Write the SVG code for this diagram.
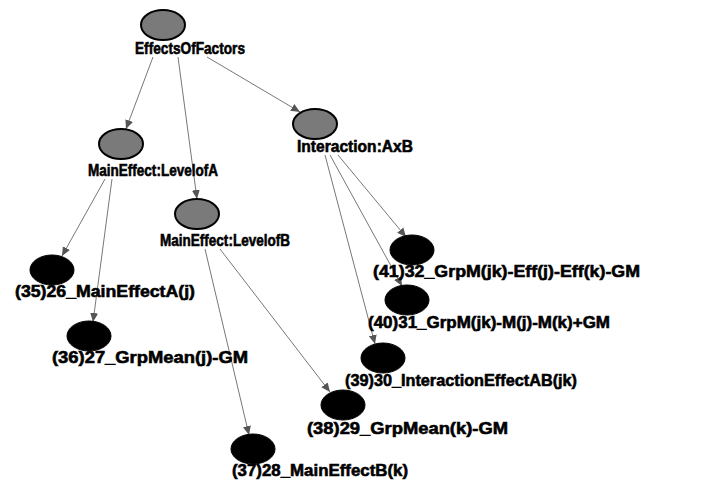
<svg xmlns="http://www.w3.org/2000/svg" width="726" height="482" viewBox="0 0 726 482">
  <defs>
    <marker id="arrow" markerWidth="10" markerHeight="10" refX="9" refY="5" orient="auto" markerUnits="userSpaceOnUse">
      <path d="M0,1 L9,5 L0,9 Z" fill="#555"/>
    </marker>
  </defs>
  <style>
    .edge { stroke: #777; stroke-width: 1; fill: none; marker-end: url(#arrow); }
    .factor { fill: #7a7a7a; stroke: #000; stroke-width: 2; }
    .term { fill: #000; stroke: #000; stroke-width: 1; }
    .label { font-family: "Liberation Sans", Arial, sans-serif; font-weight: bold; font-size: 17px; fill: #000; stroke: #000; stroke-width: 0.6; }
  </style>
  <rect width="726" height="482" fill="#fff"/>

  <g id="connectors">
    <line class="edge" x1="153" y1="57" x2="126" y2="129"/>
    <line class="edge" x1="178" y1="57" x2="197" y2="199"/>
    <line class="edge" x1="207" y1="57" x2="300" y2="112"/>
    <line class="edge" x1="105" y1="179" x2="62" y2="256"/>
    <line class="edge" x1="112" y1="179" x2="93" y2="322"/>
    <line class="edge" x1="205" y1="249" x2="249" y2="435"/>
    <line class="edge" x1="220" y1="249" x2="330" y2="392"/>
    <line class="edge" x1="325" y1="155" x2="375" y2="344"/>
    <line class="edge" x1="330" y1="155" x2="402" y2="286"/>
    <line class="edge" x1="338" y1="155" x2="406" y2="237"/>
  </g>

  <g id="EffectsOfFactors">
    <ellipse class="factor" cx="163" cy="25" rx="22" ry="15"/>
    <text class="label" x="135" y="54" textLength="110" lengthAdjust="spacingAndGlyphs">EffectsOfFactors</text>
  </g>
  <g id="MainEffect_LevelofA">
    <ellipse class="factor" cx="121" cy="144" rx="22" ry="15"/>
    <text class="label" x="88" y="176" textLength="130" lengthAdjust="spacingAndGlyphs">MainEffect:LevelofA</text>
  </g>
  <g id="Interaction_AxB">
    <ellipse class="factor" cx="315" cy="124" rx="22" ry="15"/>
    <text class="label" x="297" y="152" textLength="116" lengthAdjust="spacingAndGlyphs">Interaction:AxB</text>
  </g>
  <g id="MainEffect_LevelofB">
    <ellipse class="factor" cx="197" cy="214" rx="22" ry="15"/>
    <text class="label" x="160" y="246" textLength="130" lengthAdjust="spacingAndGlyphs">MainEffect:LevelofB</text>
  </g>

  <g id="n26_MainEffectA">
    <ellipse class="term" cx="52" cy="270" rx="22" ry="15"/>
    <text class="label" x="15" y="297" textLength="180" lengthAdjust="spacingAndGlyphs">(35)26_MainEffectA(j)</text>
  </g>
  <g id="n27_GrpMean_j">
    <ellipse class="term" cx="89" cy="336" rx="22" ry="15"/>
    <text class="label" x="52" y="363" textLength="196" lengthAdjust="spacingAndGlyphs">(36)27_GrpMean(j)-GM</text>
  </g>
  <g id="n28_MainEffectB">
    <ellipse class="term" cx="253" cy="449" rx="22" ry="15"/>
    <text class="label" x="232" y="476" textLength="176" lengthAdjust="spacingAndGlyphs">(37)28_MainEffectB(k)</text>
  </g>
  <g id="n29_GrpMean_k">
    <ellipse class="term" cx="343" cy="405" rx="22" ry="15"/>
    <text class="label" x="307" y="434" textLength="201" lengthAdjust="spacingAndGlyphs">(38)29_GrpMean(k)-GM</text>
  </g>
  <g id="n30_InteractionEffectAB">
    <ellipse class="term" cx="383" cy="358" rx="22" ry="15"/>
    <text class="label" x="345" y="386" textLength="232" lengthAdjust="spacingAndGlyphs">(39)30_InteractionEffectAB(jk)</text>
  </g>
  <g id="n31_GrpM_M">
    <ellipse class="term" cx="407" cy="300" rx="22" ry="15"/>
    <text class="label" x="368" y="328" textLength="242" lengthAdjust="spacingAndGlyphs">(40)31_GrpM(jk)-M(j)-M(k)+GM</text>
  </g>
  <g id="n32_GrpM_Eff">
    <ellipse class="term" cx="412" cy="250" rx="22" ry="15"/>
    <text class="label" x="373" y="277" textLength="267" lengthAdjust="spacingAndGlyphs">(41)32_GrpM(jk)-Eff(j)-Eff(k)-GM</text>
  </g>
</svg>
